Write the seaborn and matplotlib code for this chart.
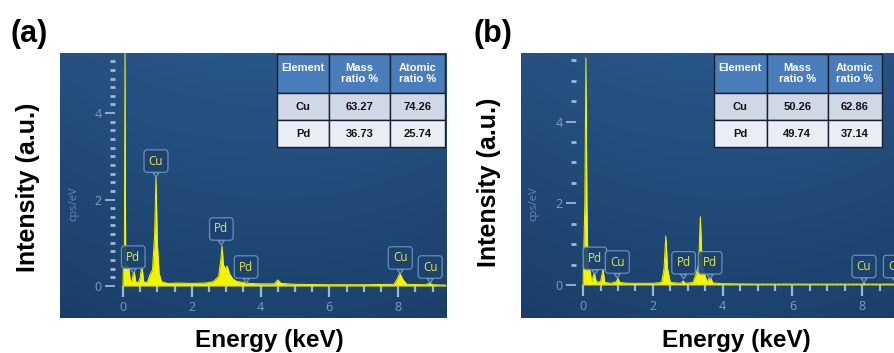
import numpy as np
import matplotlib
matplotlib.use("Agg")
import matplotlib.pyplot as plt
import seaborn as sns
from matplotlib.ticker import FixedLocator

# ------------------------------------------------
# data
# ------------------------------------------------
energy_a = [0.00, 0.01, 0.04, 0.06, 0.08, 0.10, 0.17, 0.21, 0.26, 0.32, 0.37, 0.45,
            0.50, 0.55, 0.60, 0.70, 0.78, 0.86, 0.92, 0.96, 1.00, 1.05, 1.12, 1.30,
            1.60, 2.00, 2.40, 2.62, 2.78, 2.85, 2.88, 2.92, 2.97, 3.03, 3.10, 3.20,
            3.30, 3.50, 3.70, 4.00, 4.40, 4.50, 4.60, 5.00, 6.00, 7.00, 7.88, 7.97,
            8.05, 8.13, 8.25, 8.80, 8.92, 9.00, 9.40]
counts_a = [0.00, 0.46, 0.50, 5.60, 0.50, 0.48, 0.45, 0.14, 0.10, 0.39, 0.10, 0.08,
            0.20, 0.49, 0.10, 0.08, 0.25, 0.38, 1.20, 2.52, 1.00, 0.30, 0.10, 0.06,
            0.07, 0.06, 0.07, 0.10, 0.22, 0.65, 0.93, 0.50, 0.40, 0.46, 0.28, 0.16,
            0.11, 0.08, 0.06, 0.05, 0.05, 0.14, 0.06, 0.04, 0.03, 0.03, 0.04, 0.16,
            0.30, 0.16, 0.04, 0.03, 0.07, 0.03, 0.02]

energy_b = [0.00, 0.01, 0.05, 0.08, 0.11, 0.14, 0.20, 0.24, 0.32, 0.38, 0.50, 0.57,
            0.62, 0.80, 0.95, 1.00, 1.05, 1.30, 2.00, 2.25, 2.32, 2.37, 2.42, 2.50,
            2.80, 2.87, 2.93, 3.15, 3.25, 3.31, 3.36, 3.41, 3.47, 3.55, 3.64, 3.72,
            4.00, 5.00, 8.00, 8.05, 8.10, 8.91]
counts_b = [0.00, 0.50, 2.00, 5.56, 2.00, 0.40, 0.35, 0.08, 0.29, 0.07, 0.08, 0.39,
            0.06, 0.04, 0.08, 0.17, 0.06, 0.04, 0.04, 0.06, 0.40, 1.20, 0.40, 0.06,
            0.04, 0.10, 0.04, 0.06, 0.30, 0.50, 1.67, 0.50, 0.30, 0.08, 0.20, 0.05,
            0.03, 0.02, 0.02, 0.04, 0.02, 0.02]

# peak markers: position, tip height, element
mark_e_a = [0.30, 0.96, 2.86, 3.58, 8.06, 8.93]
mark_i_a = [0.30, 2.52, 0.95, 0.07, 0.28, 0.07]
mark_t_a = ["Pd", "Cu", "Pd", "Pd", "Cu", "Cu"]

mark_e_b = [0.34, 0.98, 2.88, 3.64, 8.05, 8.95]
mark_i_b = [0.26, 0.17, 0.15, 0.15, 0.06, 0.06]
mark_t_b = ["Pd", "Cu", "Pd", "Pd", "Cu", "Cu"]

col_labels = ["Element\n ", "Mass\nratio %", "Atomic\nratio %"]
rows_a = [["Cu", "63.27", "74.26"], ["Pd", "36.73", "25.74"]]
rows_b = [["Cu", "50.26", "62.86"], ["Pd", "49.74", "37.14"]]

x_major = [0, 2, 4, 6, 8]

# ------------------------------------------------
# style
# ------------------------------------------------
sns.set_theme(style="white")
plt.rcParams["font.family"] = ["Liberation Sans", "DejaVu Sans"]
plt.rcParams["text.color"] = "black"

YELLOW = "#f4f400"
TICK_C = "#9fb6d4"
LAB_C = "#7f9cc2"
BOX_FC = "#1c436f"
BOX_EC = "#7196c0"


def background(ax):
    yy, xx = np.mgrid[0:1:200j, 0:1:200j]
    top = np.array([40, 86, 136]) / 255
    bot = np.array([28, 66, 110]) / 255
    v = yy[..., None]
    img = bot + (top - bot) * v
    img = img * (1 - 0.2 * ((xx[..., None] - 0.55) ** 2))
    ax.imshow(img[::-1], extent=[0, 1, 0, 1], transform=ax.transAxes,
              aspect="auto", zorder=0, interpolation="bilinear")


def panel(ax, energy, counts, xlim, ylim, yspine, yminor, xminor_max,
          mark_e, mark_i, mark_t, rows, tbox, colw):
    background(ax)
    ax.fill_between(energy, counts, 0, color=YELLOW, lw=0, zorder=2)
    sns.lineplot(x=energy, y=counts, ax=ax, color=YELLOW, lw=0.7, zorder=3,
                 sort=False, estimator=None)
    # faint baseline
    ax.plot([0, xlim[1]], [0.015, 0.015], color="#d8d860", lw=0.8, ls=(0, (2, 1.5)),
            zorder=2, alpha=0.8)

    ax.set_xlim(*xlim)
    ax.set_ylim(*ylim)
    ax.set_xlabel("")
    ax.set_ylabel("")

    for s in ax.spines.values():
        s.set_visible(False)
    ax.spines["bottom"].set_position(("data", 0))
    ax.spines["left"].set_position(("data", yspine))

    ax.xaxis.set_major_locator(FixedLocator(x_major))
    ax.xaxis.set_minor_locator(FixedLocator(list(np.arange(0.5, xminor_max + 0.01, 0.5))))
    ax.yaxis.set_major_locator(FixedLocator([0, 2, 4]))
    ax.yaxis.set_minor_locator(FixedLocator(yminor))
    ax.tick_params(axis="x", which="major", direction="out", length=8, width=1.6,
                   color=TICK_C, labelcolor=LAB_C, labelsize=9, pad=3, bottom=True)
    ax.tick_params(axis="x", which="minor", direction="out", length=4.5, width=1.6,
                   color=TICK_C, bottom=True)
    ax.tick_params(axis="y", which="major", direction="out", length=7.5, width=1.3,
                   color=TICK_C, labelcolor=LAB_C, labelsize=9, pad=2, left=True)
    ax.tick_params(axis="y", which="minor", direction="out", length=3.5, width=2.0,
                   color=TICK_C, left=True)
    for lab in ax.get_xticklabels() + ax.get_yticklabels():
        lab.set_fontfamily(["Open Sans", "DejaVu Sans"])

    ax.text(0.035, 0.43, "cps/eV", transform=ax.transAxes, rotation=90,
            ha="center", va="center", color="#6688b2", fontsize=8,
            family=["Open Sans", "DejaVu Sans"])

    for e, i, t in zip(mark_e, mark_i, mark_t):
        ax.annotate(t, xy=(e, i), xytext=(0, 11.5), textcoords="offset points",
                    ha="center", va="center", fontsize=8.5, color="#e6e84a",
                    family=["Open Sans", "DejaVu Sans"], zorder=5,
                    annotation_clip=False,
                    bbox=dict(boxstyle="round,pad=0.4,rounding_size=0.25",
                              fc=BOX_FC, ec=BOX_EC, lw=0.9, alpha=0.9),
                    arrowprops=dict(arrowstyle="wedge,tail_width=0.5,shrink_factor=0.5",
                                    fc=BOX_FC, ec=BOX_EC, lw=0.9, shrinkA=0,
                                    shrinkB=0, relpos=(0.5, 0)))

    tab = ax.table(cellText=rows, colLabels=col_labels, cellLoc="center",
                   colWidths=colw, bbox=tbox, zorder=6)
    tab.auto_set_font_size(False)
    tab.set_fontsize(8)
    row_fc = {0: "#4a7dbb", 1: "#d0d8e8", 2: "#e9edf4"}
    for (r, c), cell in tab.get_celld().items():
        cell.set_facecolor(row_fc[r])
        cell.set_edgecolor("#1a2030")
        cell.set_linewidth(1.0)
        cell.set_height(1.45 if r == 0 else 1.0)
        cell.get_text().set_fontweight("bold")
        cell.get_text().set_color("white" if r == 0 else "#111111")


fig = plt.figure(figsize=(8.94, 3.53), dpi=100)
ax_a = fig.add_axes([60 / 894, 35 / 353, 386 / 894, 265 / 353])
ax_b = fig.add_axes([521 / 894, 35 / 353, 373 / 894, 265 / 353])

panel(ax_a, energy_a, counts_a, (-1.83, 9.39), (-0.74, 5.39), -0.23,
      list(np.arange(0.2, 5.25, 0.2)), 9.0, mark_e_a, mark_i_a, mark_t_a,
      rows_a, [0.562, 0.645, 0.435, 0.351], [52, 61, 55])
panel(ax_b, energy_b, counts_b, (-1.78, 8.91), (-0.81, 5.68), -0.20,
      [0.5, 1.0, 1.5, 2.5, 3.0, 3.5, 4.5, 5.0, 5.5], 8.5, mark_e_b, mark_i_b, mark_t_b,
      rows_b, [0.517, 0.645, 0.450, 0.351], [53, 61, 54])

fig.text(29 / 894, 1 - 34 / 353, "(a)", fontsize=22, fontweight="bold",
         ha="center", va="center")
fig.text(493 / 894, 1 - 34 / 353, "(b)", fontsize=22, fontweight="bold",
         ha="center", va="center")
fig.text(28 / 894, 1 - 187 / 353, "Intensity (a.u.)", fontsize=18, fontweight="bold",
         rotation=90, ha="center", va="center")
fig.text(489 / 894, 1 - 182 / 353, "Intensity (a.u.)", fontsize=18, fontweight="bold",
         rotation=90, ha="center", va="center")
fig.text(269 / 894, 1 - 341 / 353, "Energy (keV)", fontsize=17.5, fontweight="bold",
         ha="center", va="center")
fig.text(736 / 894, 1 - 341 / 353, "Energy (keV)", fontsize=17.5, fontweight="bold",
         ha="center", va="center")

fig.savefig("out.png", dpi=100)
